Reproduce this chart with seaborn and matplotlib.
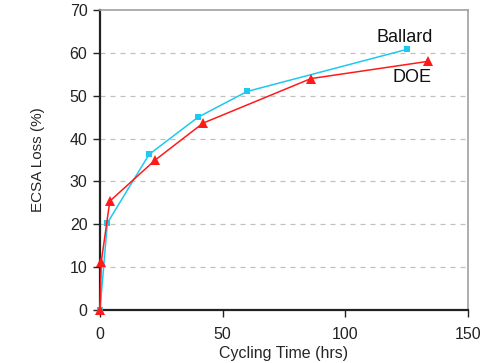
import numpy as np
import pandas as pd
import matplotlib
matplotlib.use("Agg")
import matplotlib.pyplot as plt
import seaborn as sns

# values
ballard_hrs = [0, 3, 20, 40, 60, 125]
ballard_loss = [0, 20.3, 36.3, 45, 51, 60.8]
doe_hrs = [0, 0.5, 4, 22.5, 42, 86, 133.5]
doe_loss = [0, 11.2, 25.4, 35, 43.6, 54, 58]

x_ticks = [0, 50, 100, 150]
y_ticks = [0, 10, 20, 30, 40, 50, 60, 70]

sns.set_style("white")
plt.rcParams['font.family'] = ['Liberation Sans', 'DejaVu Sans']

fig = plt.figure(figsize=(4.97, 3.63), dpi=100)
ax = fig.add_axes([100 / 497, 1 - 310 / 363, 368 / 497, 300 / 363])

# dashed grid lines
for y in y_ticks[1:-1]:
    ax.axhline(y, color="#c0c0c0", lw=0.9, ls=(0, (4, 4)), zorder=0)

sns.lineplot(x=ballard_hrs, y=ballard_loss, ax=ax, color="#1fc8f0", lw=1.1,
             marker="s", markersize=5, markeredgewidth=0, zorder=3, clip_on=False)
sns.lineplot(x=doe_hrs, y=doe_loss, ax=ax, color="#ff1a1a", lw=1.1,
             marker="^", markersize=7, markeredgewidth=0, zorder=4, clip_on=False)

ax.text(124, 63.6, "Ballard", fontsize=13, ha="center", va="center", color="#111111")
ax.text(127, 54.3, "DOE", fontsize=13, ha="center", va="center", color="#111111")

ax.set_xlim(0, 150)
ax.set_ylim(0, 70)
ax.set_xticks(x_ticks)
ax.set_yticks(y_ticks)
ax.tick_params(axis="both", direction="out", length=5, width=1, labelsize=11.5,
               colors="#222222", left=True, bottom=True)
ax.tick_params(axis="x", pad=7)
ax.tick_params(axis="y", pad=4)
ax.set_xlabel("Cycling Time (hrs)", fontsize=11.5, labelpad=3)
ax.set_ylabel("ECSA Loss (%)", fontsize=11, labelpad=18)

for side in ["left", "bottom"]:
    ax.spines[side].set_color("#222222")
    ax.spines[side].set_linewidth(1.6)
for side in ["top", "right"]:
    ax.spines[side].set_visible(True)
    ax.spines[side].set_color("#a0a0a0")
    ax.spines[side].set_linewidth(1.2)

fig.savefig("out.png", dpi=100)
